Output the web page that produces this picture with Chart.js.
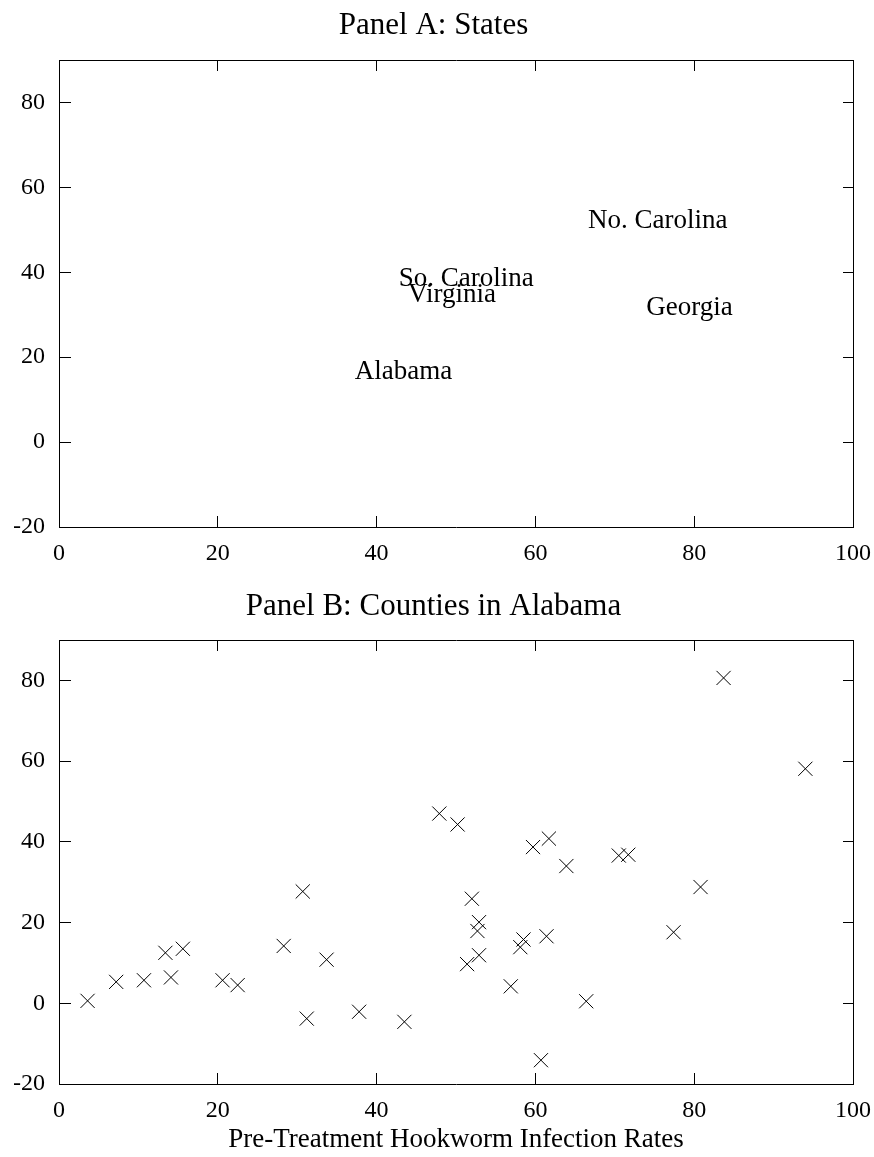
<!DOCTYPE html>
<html><head><meta charset="utf-8">
<script src="https://cdn.jsdelivr.net/npm/chart.js@4"></script>
<style>
html,body{margin:0;padding:0;background:#fff;}
#wrap{position:relative;width:874px;height:1157px;}
canvas{position:absolute;left:0;}
#cA{top:0}
#cB{top:575px}
</style></head><body>
<div id="wrap"><canvas id="cA" width="874" height="575"></canvas><canvas id="cB" width="874" height="582"></canvas></div>
<script>
// ---- data ----
const xTicks = [0, 20, 40, 60, 80, 100];
const yTicks = [-20, 0, 20, 40, 60, 80];
const stateNames = ['Alabama', 'Georgia', 'No. Carolina', 'So. Carolina', 'Virginia'];
const stateX = [43.4, 79.4, 75.4, 51.3, 49.5];
const stateY = [16.6, 31.5, 52.0, 38.4, 34.6];
const countyX = [3.6, 7.2, 10.7, 13.4, 14.1, 15.6, 20.6, 22.5, 28.3, 30.7, 31.2, 33.7, 37.8, 43.5,
  47.9, 50.2, 83.7, 94.0, 59.7, 61.7, 63.9, 70.5, 71.7, 80.8, 52.0, 52.9, 52.7, 52.9, 51.4,
  58.5, 58.1, 61.4, 56.9, 66.4, 60.7, 77.4];
const countyY = [0.6, 5.3, 5.7, 12.5, 6.4, 13.5, 5.7, 4.5, 14.2, 27.7, -3.8, 10.8, -2.1, -4.6,
  47.0, 44.3, 80.6, 58.1, 38.7, 40.8, 34.0, 36.6, 36.8, 28.8, 25.9, 20.1, 17.9, 11.9, 9.7,
  15.8, 13.9, 16.6, 4.2, 0.5, -14.1, 17.6];

const FONT = "'Liberation Serif', 'Times New Roman', serif";
Chart.defaults.font.family = FONT;
Chart.defaults.color = '#000';

const labelPlugin = {
  id: 'stateLabels',
  afterDatasetsDraw(chart) {
    if (chart.canvas.id !== 'cA') return;
    const meta = chart.getDatasetMeta(0);
    const ctx = chart.ctx;
    ctx.save();
    ctx.font = "27px " + FONT;
    ctx.fillStyle = '#000';
    ctx.textAlign = 'center';
    ctx.textBaseline = 'middle';
    meta.data.forEach((el, i) => ctx.fillText(stateNames[i], el.x, el.y));
    ctx.restore();
  }
};

function makeOptions(title, padTop, padBottom, xAxisH, plotH, xTitle) {
  const TL = 11;
  return {
    responsive: false,
    animation: false,
    events: [],
    layout: { padding: { left: 14, right: 21, top: 0, bottom: 0 } },
    plugins: {
      legend: { display: false },
      tooltip: { enabled: false },
      title: {
        display: true, text: title, color: '#000',
        font: { size: 31, weight: 'normal', family: FONT, lineHeight: 1.2 },
        padding: { top: padTop, bottom: padBottom }
      }
    },
    scales: {
      x: {
        type: 'linear', position: 'bottom', min: 0, max: 100,
        afterBuildTicks: s => { s.ticks = xTicks.map(v => ({ value: v })); },
        afterFit: s => { s.height = xAxisH; s.paddingLeft = 0; s.paddingRight = 0; },
        ticks: { padding: 12, font: { size: 24, family: FONT }, color: '#000', maxRotation: 0, autoSkip: false },
        grid: { display: true, drawOnChartArea: true, drawTicks: false, color: '#000', lineWidth: 1 },
        border: { display: true, color: '#000', width: 1, dash: [TL, plotH - 2 * TL] },
        title: xTitle ? { display: true, text: xTitle, color: '#000', font: { size: 27, family: FONT }, padding: { top: 0, bottom: 1 } } : { display: false }
      },
      y: {
        type: 'linear', position: 'left', min: -20, max: 90,
        afterBuildTicks: s => { s.ticks = yTicks.map(v => ({ value: v })); },
        afterFit: s => { s.width = 45; s.paddingTop = 0; s.paddingBottom = 0; },
        ticks: { padding: 14, font: { size: 24, family: FONT }, color: '#000' },
        grid: { display: true, drawOnChartArea: true, drawTicks: false, color: '#000', lineWidth: 1 },
        border: { display: true, color: '#000', width: 1, dash: [TL, 794 - 2 * TL] }
      },
      x2: {
        type: 'linear', position: 'top', min: 0, max: 100,
        afterFit: s => { s.height = 0; s.paddingLeft = 0; s.paddingRight = 0; },
        ticks: { display: false },
        grid: { display: false },
        border: { display: true, color: '#000', width: 1 }
      },
      y2: {
        type: 'linear', position: 'right', min: -20, max: 90,
        afterFit: s => { s.width = 0; s.paddingTop = 0; s.paddingBottom = 0; },
        ticks: { display: false },
        grid: { display: false },
        border: { display: true, color: '#000', width: 1 }
      }
    }
  };
}

new Chart(document.getElementById('cA'), {
  type: 'scatter',
  data: {
    datasets: [{
      data: stateX.map((x, i) => ({ x: x, y: stateY[i] })),
      pointRadius: 0, pointHoverRadius: 0, showLine: false
    }]
  },
  options: makeOptions('Panel A: States', 7.4, 15.4, 48, 467, null),
  plugins: [labelPlugin]
});

new Chart(document.getElementById('cB'), {
  type: 'scatter',
  data: {
    datasets: [{
      data: countyX.map((x, i) => ({ x: x, y: countyY[i] })),
      pointStyle: 'crossRot', pointRadius: 10, pointHoverRadius: 10,
      borderColor: '#000', backgroundColor: 'rgba(0,0,0,0)', borderWidth: 1, showLine: false
    }]
  },
  options: makeOptions('Panel B: Counties in Alabama', 13.4, 14.4, 73, 444, 'Pre-Treatment Hookworm Infection Rates')
});
</script>
</body></html>
